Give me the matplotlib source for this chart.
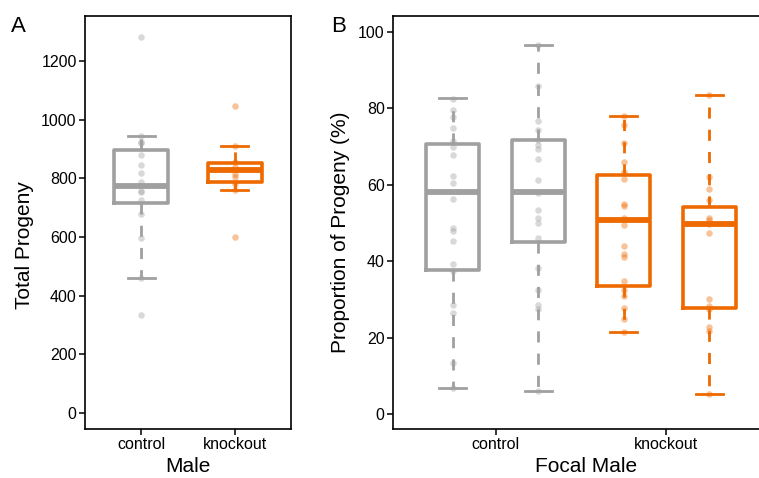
import matplotlib
matplotlib.use('Agg')
import matplotlib.pyplot as plt

plt.rcParams['font.family'] = ['Liberation Sans', 'DejaVu Sans']

# Панель A: общее потомство
male_groups = ['control', 'knockout']
total_control = [1283, 943, 924, 919, 881, 844, 817, 786, 757, 752, 726, 677, 595, 462, 335]
total_knockout = [1047, 910, 856, 839, 814, 805, 782, 760, 599]
# (whislo, q1, med, q3, whishi)
total_box_control = (462, 717, 773, 898, 943)
total_box_knockout = (760, 788, 828, 853, 910)

# Панель B: доля потомства (%)
prop_control_1 = [82.6, 79.6, 77.7, 74.8, 71.5, 70.0, 67.7, 62.4, 60.6, 56.3,
                  48.6, 48.0, 45.3, 39.4, 37.5, 28.5, 26.5, 13.4, 6.9]
prop_control_2 = [96.6, 85.9, 76.8, 74.3, 71.7, 70.4, 69.5, 66.9, 61.4, 57.8,
                  53.3, 51.4, 50.1, 46.0, 38.3, 32.6, 28.5, 27.4, 6.0]
prop_knockout_1 = [78.0, 75.8, 71.0, 65.9, 63.4, 61.5, 55.0, 54.5, 51.4, 49.5,
                   44.1, 41.9, 41.2, 34.9, 32.5, 31.0, 27.8, 24.8, 21.4]
prop_knockout_2 = [83.5, 62.1, 58.9, 56.0, 51.4, 50.8, 49.7, 47.3, 30.1, 28.3,
                   27.4, 22.9, 21.7, 5.2]
prop_box_control_1 = (6.9, 37.6, 58.2, 70.7, 82.8)
prop_box_control_2 = (6.0, 45.0, 58.2, 71.7, 96.6)
prop_box_knockout_1 = (21.4, 33.6, 50.8, 62.6, 78.0)
prop_box_knockout_2 = (5.2, 27.8, 49.7, 54.3, 83.5)

GRAY = '#a0a0a0'
ORANGE = '#ee6a00'


def make_stats(box):
    lo, q1, med, q3, hi = box
    return dict(whislo=lo, q1=q1, med=med, q3=q3, whishi=hi, fliers=[])


def draw_box(ax, pos, box, points, color, width, capwidth):
    ax.bxp([make_stats(box)], positions=[pos], widths=width, capwidths=capwidth,
           showfliers=False, patch_artist=False,
           boxprops=dict(color=color, linewidth=2.6),
           medianprops=dict(color=color, linewidth=4.2, solid_capstyle='butt'),
           whiskerprops=dict(color=color, linewidth=2.0, linestyle=(0, (4, 4))),
           capprops=dict(color=color, linewidth=2.0), zorder=2)
    ax.scatter([pos] * len(points), points, s=22, color=color, alpha=0.4,
               linewidths=0, zorder=3)


fig = plt.figure(figsize=(7.59, 4.78), dpi=100)

# --- A ---
ax1 = fig.add_axes([85 / 759, 1 - 429 / 478, 206 / 759, 413 / 478])
draw_box(ax1, 1, total_box_control, total_control, GRAY, 0.57, 0.29)
draw_box(ax1, 2, total_box_knockout, total_knockout, ORANGE, 0.57, 0.29)
ax1.set_xlim(0.4, 2.6)
ax1.set_ylim(-54, 1353)
ax1.set_xticks([1, 2])
ax1.set_xticklabels(male_groups)
ax1.set_yticks([0, 200, 400, 600, 800, 1000, 1200])
ax1.set_xlabel('Male', fontsize=15)
ax1.set_ylabel('Total Progeny', fontsize=15)

# --- B ---
ax2 = fig.add_axes([393 / 759, 1 - 429 / 478, 376 / 759, 413 / 478])
draw_box(ax2, 0.75, prop_box_control_1, prop_control_1, GRAY, 0.31, 0.16)
draw_box(ax2, 1.25, prop_box_control_2, prop_control_2, GRAY, 0.31, 0.16)
draw_box(ax2, 1.75, prop_box_knockout_1, prop_knockout_1, ORANGE, 0.31, 0.16)
draw_box(ax2, 2.25, prop_box_knockout_2, prop_knockout_2, ORANGE, 0.31, 0.16)
ax2.set_xlim(0.4, 2.6)
ax2.set_ylim(-3.9, 104.2)
ax2.set_xticks([1, 2])
ax2.set_xticklabels(male_groups)
ax2.set_yticks([0, 20, 40, 60, 80, 100])
ax2.set_xlabel('Focal Male', fontsize=15)
ax2.set_ylabel('Proportion of Progeny (%)', fontsize=15)

for ax in (ax1, ax2):
    for sp in ax.spines.values():
        sp.set_linewidth(1.2)
    ax.tick_params(labelsize=11.5, length=4, width=1.1, colors='black', pad=2)

# положение подписей осей (пиксели -> доли осей)
ax1.yaxis.set_label_coords((25 - 85) / 206, (429 - 245) / 413)
ax2.yaxis.set_label_coords((341 - 393) / 376, (429 - 232) / 413)
ax1.xaxis.set_label_coords((188 - 85) / 206, -(467 - 429) / 413)
ax2.xaxis.set_label_coords((586 - 393) / 376, -(467 - 429) / 413)
ax1.xaxis.label.set_va('center')
ax2.xaxis.label.set_va('center')
ax1.yaxis.label.set_va('center')
ax2.yaxis.label.set_va('center')

fig.text(11 / 759, 1 - 27 / 478, 'A', fontsize=16, va='center', ha='left')
fig.text(331 / 759, 1 - 27 / 478, 'B', fontsize=16, va='center', ha='left')

plt.savefig('out.png', dpi=100)
